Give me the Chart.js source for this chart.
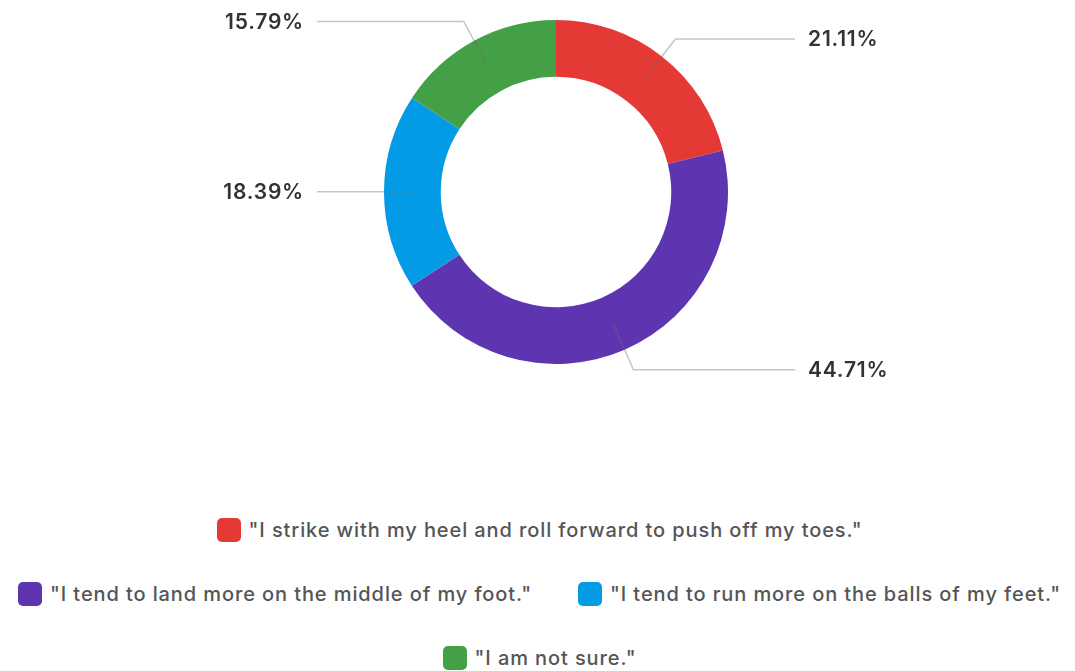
<!DOCTYPE html>
<html>
<head>
<meta charset="utf-8">
<script src="https://cdn.jsdelivr.net/npm/chart.js@4"></script>
<style>
  body { margin: 0; background: #fff; font-family: Inter, "Noto Sans", sans-serif; }
  .chart-box { position: relative; width: 1075px; height: 384px; }
  #chart-legend {
    position: absolute; top: 515px; left: 4px; width: 1071px;
    display: flex; flex-wrap: wrap; justify-content: center;
    column-gap: 46px; row-gap: 34px;
  }
  .legend-item { display: flex; align-items: center; height: 30px; }
  .legend-color { width: 24px; height: 24px; border-radius: 5px; margin-right: 8px; }
  .legend-label { font-size: 20px; font-weight: 500; letter-spacing: 0.9px; color: #555; white-space: nowrap; }
</style>
</head>
<body>
<div class="chart-box"><canvas id="myChart"></canvas></div>
<div id="chart-legend"></div>
<script>
// Sample data
const answers = [
  '"I strike with my heel and roll forward to push off my toes."',
  '"I tend to land more on the middle of my foot."',
  '"I tend to run more on the balls of my feet."',
  '"I am not sure."'
];
const shares = [21.11, 44.71, 18.39, 15.79];
const colors = ['#E53935', '#5E35B1', '#039BE5', '#43A047'];

// Leader lines with the percentage outside the ring
const leaderLines = {
  id: 'leaderLines',
  afterDatasetsDraw(chart) {
    const ctx = chart.ctx;
    const meta = chart.getDatasetMeta(0);
    meta.data.forEach((arc, i) => {
      const p = arc.getProps(['x', 'y', 'startAngle', 'endAngle', 'innerRadius', 'outerRadius'], true);
      const mid = (p.startAngle + p.endAngle) / 2;
      const cos = Math.cos(mid);
      const sin = Math.sin(mid);
      const midR = (p.innerRadius + p.outerRadius) / 2;
      const x0 = p.x + cos * midR;
      const y0 = p.y + sin * midR;
      const x1 = p.x + cos * (p.outerRadius + 22);
      const y1 = p.y + sin * (p.outerRadius + 22);
      const right = cos >= 0;
      const x2 = p.x + (right ? 239 : -239);

      ctx.save();
      ctx.strokeStyle = 'rgba(110, 110, 110, 0.4)';
      ctx.lineWidth = 1.5;
      ctx.beginPath();
      ctx.moveTo(x0, y0);
      ctx.lineTo(x1, y1);
      ctx.lineTo(x2, y1);
      ctx.stroke();

      ctx.font = '600 21px Inter';
      ctx.letterSpacing = '0.8px';
      ctx.fillStyle = '#333';
      ctx.textBaseline = 'middle';
      ctx.textAlign = right ? 'left' : 'right';
      ctx.fillText(shares[i].toFixed(2) + '%', x2 + (right ? 13 : -13), y1 + 1);
      ctx.restore();
    });
  }
};

// Create the chart
const ctx = document.getElementById('myChart').getContext('2d');
const myChart = new Chart(ctx, {
  type: 'doughnut',
  data: {
    labels: answers,
    datasets: [
      {
        data: shares,
        backgroundColor: colors,
        borderWidth: 0,
      },
    ],
  },
  options: {
    responsive: true,
    maintainAspectRatio: false,
    animation: false,
    cutout: '67%',
    layout: {
      padding: { left: 37, top: 20, bottom: 20 },
    },
    plugins: {
      legend: { display: false },
      tooltip: { enabled: false },
    },
  },
  plugins: [leaderLines],
});

// Custom legend
const chartLegend = document.getElementById('chart-legend');
myChart.data.labels.forEach((label, index) => {
  const legendItem = document.createElement('div');
  legendItem.classList.add('legend-item');

  const legendColor = document.createElement('span');
  legendColor.classList.add('legend-color');
  legendColor.style.backgroundColor = myChart.data.datasets[0].backgroundColor[index];

  const legendLabel = document.createElement('span');
  legendLabel.classList.add('legend-label');
  legendLabel.textContent = label;

  legendItem.appendChild(legendColor);
  legendItem.appendChild(legendLabel);
  chartLegend.appendChild(legendItem);
});
</script>
</body>
</html>
